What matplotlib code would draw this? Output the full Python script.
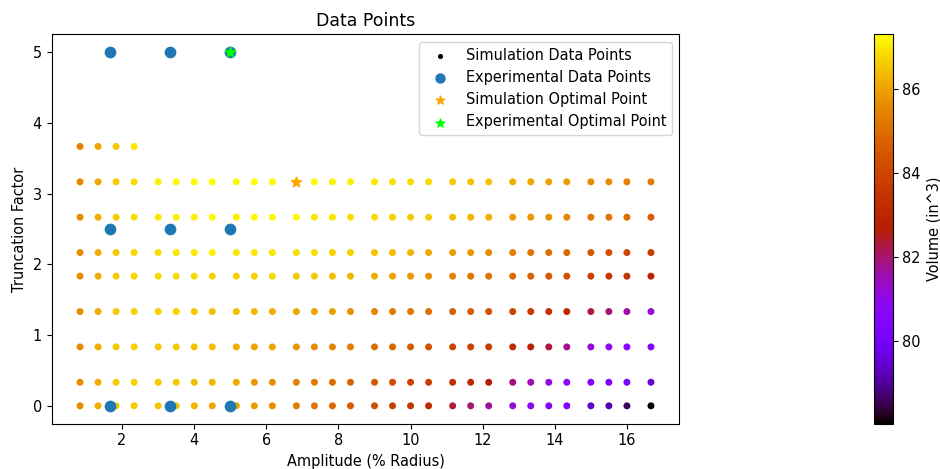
import numpy as np
import matplotlib
matplotlib.use("Agg")
import matplotlib.pyplot as plt

plt.rcParams["font.size"] = 10.45

# simulation grid: amplitude columns and truncation-factor rows
amplitude = [0.833, 1.333, 1.833, 2.333, 3.0, 3.5, 4.0, 4.5, 5.167, 5.667,
             6.167, 6.833, 7.333, 7.833, 8.333, 9.0, 9.5, 10.0, 10.5, 11.167,
             11.667, 12.167, 12.833, 13.333, 13.833, 14.333, 15.0, 15.5, 16.0, 16.667]
truncation = [0.0, 0.333, 0.833, 1.333, 1.833, 2.167, 2.667, 3.167, 3.667]

# simulated volume (in^3), one list per truncation row
vol_t0000 = [85.6, 86.2, 86.6, 86.6, 86.5, 86.5, 86.3, 86.1, 86.0, 85.9,
             85.6, 85.3, 85.1, 84.9, 84.6, 84.2, 83.8, 83.5, 83.0, 82.4,
             82.0, 81.7, 81.2, 80.8, 80.5, 80.3, 79.4, 79.1, 78.6, 78.03]
vol_t0333 = [85.6, 86.2, 86.6, 86.7, 86.6, 86.6, 86.4, 86.3, 86.1, 85.8,
             85.7, 85.4, 85.2, 85.0, 84.8, 84.5, 84.2, 84.0, 83.8, 83.3,
             83.0, 82.6, 81.9, 81.5, 81.1, 80.8, 80.4, 80.3, 80.1, 79.5]
vol_t0833 = [85.6, 86.2, 86.6, 86.7, 86.6, 86.6, 86.5, 86.4, 86.2, 86.0,
             86.0, 85.8, 85.6, 85.5, 85.3, 85.0, 84.8, 84.6, 84.4, 84.0,
             83.9, 83.7, 83.2, 82.8, 82.3, 81.8, 81.2, 80.9, 80.6, 80.4]
vol_t1333 = [85.6, 86.2, 86.6, 86.7, 86.7, 86.7, 86.6, 86.5, 86.4, 86.3,
             86.2, 86.1, 86.0, 85.9, 85.7, 85.5, 85.3, 85.2, 85.0, 84.7,
             84.6, 84.4, 84.0, 83.7, 83.4, 83.1, 82.3, 82.0, 81.6, 81.2]
vol_t1833 = [85.6, 86.2, 86.6, 86.8, 86.8, 86.8, 86.8, 86.7, 86.7, 86.7,
             86.8, 86.6, 86.6, 86.4, 86.3, 86.2, 86.0, 85.8, 85.7, 85.4,
             85.2, 85.1, 84.9, 84.7, 84.5, 84.3, 83.9, 83.6, 83.4, 82.9]
vol_t2167 = [85.6, 86.2, 86.6, 86.8, 86.9, 87.0, 87.0, 87.1, 87.0, 87.0,
             87.0, 86.9, 86.9, 86.7, 86.7, 86.5, 86.4, 86.3, 86.1, 85.9,
             85.8, 85.6, 85.4, 85.2, 85.0, 84.9, 84.5, 84.3, 84.1, 83.7]
vol_t2667 = [85.6, 86.2, 86.6, 86.9, 87.0, 87.1, 87.1, 87.2, 87.1, 87.2,
             87.2, 87.2, 87.0, 87.0, 86.9, 86.8, 86.7, 86.6, 86.6, 86.4,
             86.3, 86.2, 85.9, 85.8, 85.7, 85.5, 85.2, 85.1, 85.0, 84.6]
vol_t3167 = [85.5, 86.1, 86.6, 86.9, 87.1, 87.2, 87.2, 87.3, 87.2, 87.3,
             87.2, 87.3, 87.2, 87.1, 87.1, 87.0, 86.9, 86.9, 86.8, 86.6,
             86.5, 86.5, 86.2, 86.1, 86.0, 85.9, 85.6, 85.6, 85.4, 85.3]
vol_t3667 = [85.4, 86.1, 86.6, 87.0]

volume_rows = [vol_t0000, vol_t0333, vol_t0833, vol_t1333, vol_t1833,
               vol_t2167, vol_t2667, vol_t3167, vol_t3667]

# experimental runs
exp_amplitude = [1.667, 3.333, 5.0, 1.667, 3.333, 5.0, 1.667, 3.333, 5.0]
exp_truncation = [5.0, 5.0, 5.0, 2.5, 2.5, 2.5, 0.0, 0.0, 0.0]

sim_opt = (6.833, 3.167)
exp_opt = (5.0, 5.0)

# flatten the grid
sim_x, sim_y, sim_v = [], [], []
for t, row in zip(truncation, volume_rows):
    for a, v in zip(amplitude, row):
        sim_x.append(a)
        sim_y.append(t)
        sim_v.append(v)

fig = plt.figure(figsize=(9.4, 4.69), dpi=100)
ax = fig.add_axes([51.5 / 940, 45.5 / 469, 628 / 940, 389 / 469])
cax = fig.add_axes([873.5 / 940, 45.5 / 469, 19 / 940, 389 / 469])

sc = ax.scatter(sim_x, sim_y, c=sim_v, cmap="gnuplot", s=16,
                label="Simulation Data Points")
ax.scatter(exp_amplitude, exp_truncation, color="tab:blue", s=55,
           label="Experimental Data Points")
ax.scatter(*sim_opt, color="orange", marker="*", s=60,
           label="Simulation Optimal Point")
ax.scatter(*exp_opt, color="lime", marker="*", s=60,
           label="Experimental Optimal Point")

ax.set_title("Data Points")
ax.set_xlabel("Amplitude (% Radius)")
ax.set_ylabel("Truncation Factor")

leg = ax.legend(loc="upper right")
h_sim, h_exp, h_sopt, h_eopt = leg.legend_handles
h_sim.set_array(None)
h_sim.set_facecolor("black")
h_sim.set_edgecolor("black")
h_sim.set_sizes([7])
h_exp.set_sizes([42])
h_sopt.set_sizes([40])
h_eopt.set_sizes([40])

cb = fig.colorbar(sc, cax=cax)
cb.set_label("Volume (in^3)")

fig.savefig("out.png", dpi=100)
